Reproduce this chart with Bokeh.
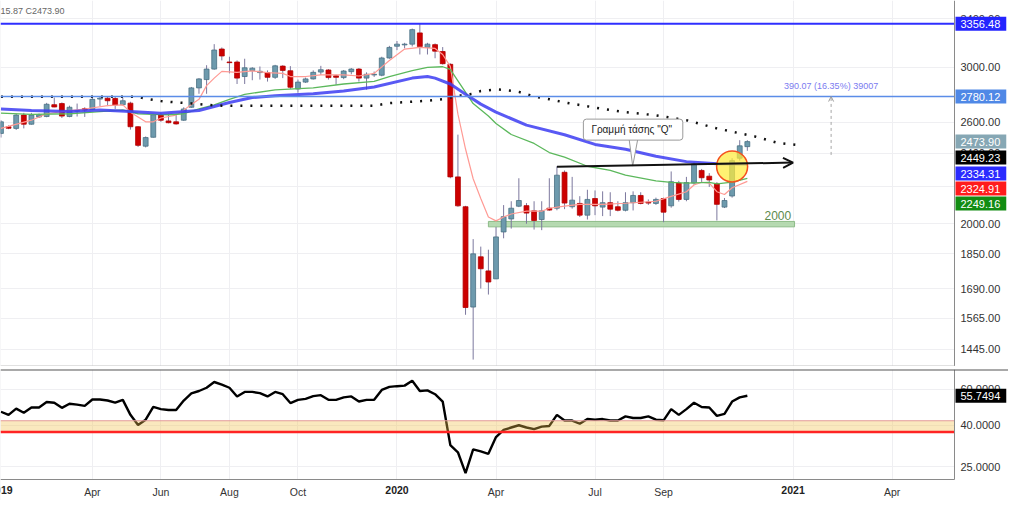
import math
from bokeh.plotting import figure
from bokeh.models import (ColumnDataSource, Range1d, FixedTicker, Label, Span, Arrow,
                          OpenHead, BoxAnnotation)
from bokeh.layouts import column
from bokeh.embed import file_html
from bokeh.resources import INLINE

# ---------------- data (weekly candles, Jan 2019 .. Nov 2020) ----------------
opens = [2527, 2571, 2560, 2650, 2588, 2637, 2640, 2722, 2730, 2640,
         2677, 2694, 2688, 2762, 2768, 2766, 2722, 2733, 2571, 2445,
         2502, 2652, 2610, 2604, 2615, 2704, 2843, 2905, 2985, 3144,
         3040, 3040, 2928, 2973, 2958, 2958, 2922, 3008, 2972, 2835,
         2886, 2910, 2962, 2978, 2933, 2920, 2965, 2985, 2916, 2940,
         2938, 3072, 3167, 3178, 3184, 3278, 3157, 3180, 3124, 3022,
         2258, 2090, 1612, 1836, 1770, 1734, 1958, 2025, 2093, 2096,
         2068, 2022, 2082, 2082, 2285, 2090, 2108, 2045, 2135, 2088,
         2112, 2090, 2071, 2112, 2152, 2115, 2108, 2135, 2095, 2222,
         2130, 2222, 2296, 2262, 2220, 2088, 2149, 2370, 2442]
highs = [2615, 2580, 2660, 2665, 2665, 2660, 2735, 2773, 2738, 2715,
         2730, 2704, 2785, 2780, 2780, 2778, 2770, 2743, 2575, 2507,
         2660, 2665, 2660, 2660, 2704, 2850, 2916, 3015, 3184, 3157,
         3082, 3053, 3066, 3000, 3005, 2975, 3018, 3015, 3008, 2905,
         2920, 2975, 3010, 2985, 2942, 2978, 2993, 2993, 2960, 2966,
         3082, 3170, 3210, 3195, 3315, 3356.48, 3195, 3190, 3160, 3030,
         2519, 2095, 1922, 1885, 1870, 1983, 2099, 2120, 2250, 2110,
         2120, 2120, 2250, 2320, 2296, 2258, 2148, 2184, 2180, 2175,
         2170, 2120, 2170, 2175, 2170, 2130, 2140, 2140, 2290, 2235,
         2258, 2345, 2305, 2280, 2227, 2138, 2370, 2483, 2483]
lows = [2500, 2555, 2550, 2560, 2585, 2630, 2635, 2704, 2630, 2635,
        2640, 2637, 2685, 2712, 2712, 2692, 2716, 2552, 2440, 2437,
        2500, 2604, 2594, 2585, 2610, 2700, 2800, 2800, 2980, 3053,
        2952, 2872, 2872, 2900, 2905, 2890, 2910, 2916, 2835, 2808,
        2880, 2905, 2940, 2905, 2866, 2908, 2945, 2890, 2830, 2925,
        2930, 3066, 3135, 3150, 3165, 3100, 3100, 3070, 3020, 2250,
        2090, 1580, 1407, 1691, 1665, 1733, 1926, 1975, 2088, 2000,
        1970, 1967, 2068, 2071, 2077, 2080, 2035, 2022, 2045, 2040,
        2040, 2065, 2065, 2070, 2103, 2100, 2100, 2008, 2085, 2118,
        2120, 2212, 2225, 2200, 2017, 2083, 2140, 2355, 2415.87]
closes = [2604, 2561, 2650, 2588, 2650, 2652, 2725, 2706, 2643, 2704,
          2680, 2685, 2760, 2768, 2750, 2720, 2750, 2571, 2450, 2500,
          2652, 2615, 2598, 2590, 2692, 2843, 2910, 2985, 3136, 3088,
          3035, 2916, 2995, 2992, 2968, 2922, 3010, 2975, 2848, 2886,
          2910, 2960, 2980, 2920, 2922, 2970, 2985, 2916, 2945, 2945,
          3072, 3157, 3184, 3184, 3306, 3164, 3184, 3127, 3027, 2258,
          2095, 1610, 1850, 1780, 1720, 1933, 2037, 2082, 2124, 2056,
          2017, 2068, 2072, 2268, 2110, 2126, 2045, 2130, 2095, 2112,
          2077, 2071, 2112, 2152, 2108, 2110, 2130, 2061, 2230, 2130,
          2225, 2335, 2253, 2240, 2103, 2124, 2355, 2447, 2473.90]
rsi = [46.5, 44.9, 48.2, 46.0, 48.8, 48.8, 51.9, 51.5, 48.6, 50.9,
       50.4, 49.7, 53.4, 53.4, 52.8, 51.5, 53.2, 44.9, 40.0, 42.5,
       49.1, 47.9, 47.4, 47.4, 52.8, 57.2, 58.8, 61.0, 65.1, 63.2,
       61.0, 55.3, 58.2, 58.2, 57.4, 55.3, 58.2, 56.7, 51.3, 53.2,
       53.8, 55.5, 56.1, 53.2, 53.2, 54.7, 55.3, 52.2, 53.2, 53.2,
       59.5, 61.6, 62.1, 62.5, 66.0, 58.8, 59.2, 56.7, 52.2, 31.9,
       29.4, 23.2, 30.4, 29.7, 28.9, 34.9, 37.9, 38.9, 39.9, 38.9,
       38.2, 39.3, 39.6, 44.9, 42.1, 42.1, 40.6, 42.8, 42.5, 42.8,
       42.1, 42.1, 44.1, 43.3, 43.3, 44.1, 42.5, 42.2, 47.9, 44.9,
       47.9, 51.5, 49.1, 48.8, 44.4, 45.4, 52.2, 54.7, 55.7494]

# moving averages read at selected weeks (week number, value)
ma_slow_idx = [1, 5, 10, 14, 18, 22, 27, 31, 34, 37, 42, 46, 50, 55, 57, 58, 60, 62, 64, 66,
               70, 75, 79, 83, 87, 91, 95, 99]
ma_slow_val = [2692, 2681, 2674, 2685, 2674, 2663, 2681, 2738, 2773, 2785, 2801, 2820, 2850, 2916,
               2928, 2916, 2872, 2796, 2726, 2670, 2582, 2518, 2456, 2426, 2382, 2349, 2336, 2334.31]
ma_mid_idx = [1, 5, 10, 14, 17, 19, 21, 23, 25, 27, 29, 31, 33, 37, 42, 46, 50, 52, 55, 57,
              59, 60, 61, 63, 65, 66, 68, 71, 73, 75, 78, 81, 83, 87, 89, 91, 94, 95, 97, 99]
ma_mid_val = [2663, 2655, 2659, 2674, 2685, 2659, 2655, 2652, 2659, 2692, 2721, 2760, 2796, 2828,
              2843, 2872, 2891, 2928, 2973, 2998, 3003, 2982, 2895, 2730, 2644, 2593, 2520, 2462,
              2405, 2376, 2321, 2296, 2268, 2235, 2226, 2222, 2226, 2217, 2228, 2249.16]
ma_fast_idx = [1, 5, 7, 10, 12, 15, 17, 18, 20, 21, 22, 24, 25, 26, 27, 28, 29, 30, 32, 34,
               36, 38, 39, 41, 43, 46, 48, 50, 52, 54, 56, 58, 59, 60, 61, 62, 63, 64, 65, 66,
               67, 68, 70, 72, 73, 75, 77, 80, 83, 87, 89, 91, 92, 93, 94, 95, 96, 97, 99]
ma_fast_val = [2560, 2615, 2659, 2681, 2692, 2715, 2721, 2670, 2604, 2604, 2630, 2650, 2684, 2724,
               2760, 2860, 2916, 2967, 2960, 2971, 2958, 2952, 2928, 2928, 2940, 2940, 2932, 2952,
               3052, 3144, 3157, 3149, 3100, 3006, 2656, 2427, 2247, 2135, 2035, 2015, 2035, 2051,
               2066, 2066, 2082, 2093, 2103, 2103, 2109, 2120, 2147, 2173, 2211, 2227, 2222, 2173,
               2157, 2195, 2232]
dot_idx = [1, 19, 20, 22, 24, 26, 28, 30, 50, 52, 55, 57, 59, 61, 63, 64, 66, 67, 69, 71,
           73, 75, 77, 80, 83, 87, 91, 95, 100, 103, 106]
dot_val = [2778, 2778, 2765, 2748, 2738, 2731, 2721, 2715, 2715, 2733, 2743, 2750, 2761, 2785,
           2801, 2820, 2832, 2828, 2814, 2780, 2761, 2738, 2720, 2692, 2670, 2648, 2615, 2560,
           2507, 2466, 2450]

# horizontal levels, drawings and right-axis price tags
ath_level = 3356.48
res_level = 2780.12
support_level = 2000
support_band = (1984, 2012)
trend_q = [(74, 2318), (105, 2343)]
measure = (2390.05, 2780.12)
measure_text = "390.07 (16.35%) 39007"
tags = [("2473.90", "#86a7b4"), ("2449.23", "#000000"), ("2334.31", "#2b2bff"),
        ("2324.91", "#ff1c1c"), ("2249.16", "#128c12")]
tag_anchor = 2473.90
rsi_band = (37, 42)
rsi_last = "55.7494"

tick_idx = [1, 13, 22, 31, 40, 53, 66, 79, 88, 105, 118]
tick_labels = ["2019", "Apr", "Jun", "Aug", "Oct", "2020", "Apr", "Jul", "Sep", "2021", "Apr"]
price_ticks = [1445, 1565, 1690, 1850, 2000, 2200, 2400, 2600, 3000, 3400]
rsi_ticks = [25, 40, 60]

# ---------------- layout constants ----------------
FONT = "Liberation Sans"
TOTAL_W = 1008
AREA_W = 954                      # chart area; the rest is the price-scale strip
X0, X1 = 0.94, 126.2              # visible weeks in the chart area
X_END = X0 + (X1 - X0) * TOTAL_W / AREA_W
MAIN_H = 366
Y0, Y1 = 1382, 3565
OSC_H, STRIP_H = 110, 21
R0, R1 = 21.6, 75
R_BOTTOM = R0 / math.exp(math.log(R1 / R0) * STRIP_H / OSC_H)
GRID = "#efeff2"
AXIS = "#8a8a8a"

weeks = list(range(1, len(closes) + 1))


def base_fig(height, yr, top_border):
    f = figure(x_range=Range1d(X0, X_END), y_range=yr, y_axis_type="log",
               x_axis_location=None, y_axis_location=None,
               frame_width=TOTAL_W, frame_height=height,
               min_border_left=0, min_border_right=0, min_border_top=top_border,
               min_border_bottom=0, output_backend="svg", toolbar_location=None)
    f.outline_line_color = None
    f.xgrid.ticker = FixedTicker(ticks=tick_idx)
    f.grid.grid_line_color = GRID
    return f


def scale_labels(f, ticks, fmt):
    for t in ticks:
        f.add_layout(Label(x=X1, y=t, x_offset=6, text=fmt % t, text_align="left",
                           text_baseline="middle", text_font=FONT, text_font_size="11px",
                           text_color="#333333"))


def tag(f, y, text, color, y_off=0):
    f.add_layout(Label(x=X1, y=y, x_offset=1, y_offset=y_off, text=text, text_align="left",
                       text_baseline="middle", text_font=FONT, text_font_size="11px",
                       text_color="white", background_fill_color=color,
                       padding=dict(left=5, right=6, top=3, bottom=3)))


# ---------------- main price panel ----------------
p1 = base_fig(MAIN_H, Range1d(Y0, Y1), 0)
p1.ygrid.ticker = FixedTicker(ticks=price_ticks)

p1.quad(left=[65], right=[105.2], bottom=[support_band[0]], top=[support_band[1]],
        fill_color="#a9d4a3", fill_alpha=0.85, line_color="#8dbb88", line_width=1)

up = [k for k in range(len(closes)) if closes[k] >= opens[k]]
dn = [k for k in range(len(closes)) if closes[k] < opens[k]]


def src(ids):
    return ColumnDataSource(dict(
        x=[weeks[k] for k in ids],
        top=[max(opens[k], closes[k]) for k in ids],
        bottom=[min(opens[k], closes[k]) for k in ids],
        high=[highs[k] for k in ids],
        low=[lows[k] for k in ids]))


s_up, s_dn = src(up), src(dn)
p1.segment(x0="x", y0="high", x1="x", y1="low", source=s_up, line_color="#7c789e", line_width=1)
p1.segment(x0="x", y0="high", x1="x", y1="low", source=s_dn, line_color="#7c789e", line_width=1)
p1.vbar(x="x", width=0.64, top="top", bottom="bottom", source=s_up,
        fill_color="#6d9aad", line_color="#4a7083", line_width=0.8)
p1.vbar(x="x", width=0.64, top="top", bottom="bottom", source=s_dn,
        fill_color="#cc0000", line_color="#b30000", line_width=0.8)

p1.line(ma_fast_idx, ma_fast_val, line_color="#ff9a94", line_width=1.2)
p1.line(ma_mid_idx, ma_mid_val, line_color="#5cb85c", line_width=1.3)
p1.line(ma_slow_idx, ma_slow_val, line_color="#3c3cf2", line_width=3, line_alpha=0.85)
p1.line(dot_idx, dot_val, line_color="#111111", line_width=2.5, line_dash="2 8")

p1.add_layout(Span(location=ath_level, dimension="width", line_color="#2f2fff", line_width=2))
p1.add_layout(Span(location=res_level, dimension="width", line_color="#5b8de8", line_width=1.5))

p1.scatter([97], [2320], marker="circle", size=31, fill_color="#ffeb3b", fill_alpha=0.72,
           line_color="#f4511e", line_width=1.5)

p1.add_layout(Arrow(end=OpenHead(size=10, line_width=2, line_color="#111111"),
                    x_start=trend_q[0][0], y_start=trend_q[0][1],
                    x_end=trend_q[1][0], y_end=trend_q[1][1],
                    line_color="#111111", line_width=2))
p1.patch([83.45, 83.95, 84.65], [2500, 2322, 2500], fill_color="white",
         line_color="#9a9a9a", line_width=1)
p1.add_layout(Label(x=84, y=2552, text='Γραμμή τάσης  "Q"', text_align="center",
                    text_baseline="middle", text_font=FONT, text_font_size="10px",
                    text_color="#222222", background_fill_color="white",
                    border_line_color="#9a9a9a", border_line_width=1,
                    padding=dict(left=8, right=8, top=5, bottom=5), border_radius=3))

p1.add_layout(Label(x=103, y=support_band[1], y_offset=1, text=str(support_level),
                    text_align="center", text_baseline="bottom", text_font=FONT,
                    text_font_size="12px", text_color="#5c8a4c"))

p1.add_layout(Arrow(end=OpenHead(size=5, line_width=1, line_color="#9a9a9a"),
                    x_start=110, y_start=measure[0], x_end=110, y_end=measure[1],
                    line_color="#a6a6a6", line_width=1, line_dash="3 3"))
p1.add_layout(Label(x=110, y=measure[1], y_offset=6, text=measure_text, text_align="center",
                    text_baseline="bottom", text_font=FONT, text_font_size="9px",
                    text_color="#7b7bf0"))

p1.add_layout(Label(x=X0, y=Y1, y_offset=-5, text="15.87  C2473.90", text_align="left",
                    text_baseline="top", text_font=FONT, text_font_size="9px",
                    text_color="#666666"))

# price scale strip
p1.add_layout(BoxAnnotation(left=X1, fill_color="white", fill_alpha=1.0, line_color=None))
p1.add_layout(Span(location=X1, dimension="height", line_color=AXIS, line_width=1))
p1.add_layout(Arrow(end=None, x_start=X0, y_start=Y0, x_end=X1, y_end=Y0,
                    line_color="#c4c4c4", line_width=2))
scale_labels(p1, price_ticks, "%.2f")
tag(p1, ath_level, "%.2f" % ath_level, "#2424ff")
tag(p1, res_level, "%.2f" % res_level, "#4f88e6")
for (txt, col), off in zip(tags, [0, -16, -32, -47, -62]):
    tag(p1, tag_anchor, txt, col, off)

# ---------------- lower oscillator panel ----------------
p2 = base_fig(OSC_H + STRIP_H, Range1d(R_BOTTOM, R1), 3)
p2.ygrid.ticker = FixedTicker(ticks=rsi_ticks)

p2.line(weeks, rsi, line_color="#000000", line_width=2.4)
p2.add_layout(BoxAnnotation(bottom=rsi_band[0], top=rsi_band[1], right=X1, fill_color="#f2c04c",
                            fill_alpha=0.36, line_color=None))
p2.add_layout(Arrow(end=None, x_start=X0, y_start=rsi_band[1], x_end=X1, y_end=rsi_band[1],
                    line_color="#e39a9a", line_width=1.2))
p2.add_layout(Arrow(end=None, x_start=X0, y_start=rsi_band[0], x_end=X1, y_end=rsi_band[0],
                    line_color="#ff2424", line_width=2.5))

p2.add_layout(BoxAnnotation(left=X1, fill_color="white", fill_alpha=1.0, line_color=None))
p2.add_layout(BoxAnnotation(top=R0, fill_color="white", fill_alpha=1.0, line_color=None))
p2.add_layout(Arrow(end=None, x_start=X1, y_start=R0, x_end=X1, y_end=R1,
                    line_color=AXIS, line_width=1))
p2.add_layout(Arrow(end=None, x_start=X0, y_start=R0, x_end=X1, y_end=R0,
                    line_color=AXIS, line_width=1.2))
p2.add_layout(Span(location=R1, dimension="width", line_color="#555555", line_width=2))
scale_labels(p2, rsi_ticks, "%.4f")
tag(p2, rsi[-1], rsi_last, "#000000")

for t, lab in zip(tick_idx, tick_labels):
    p2.add_layout(Label(x=t, y=R0, y_offset=-6, text=lab, text_align="center",
                        text_baseline="top", text_font=FONT, text_font_size="10.5px",
                        text_font_style="bold" if lab.isdigit() else "normal",
                        text_color="#222222" if lab.isdigit() else "#333333"))

layout = column(p1, p2)
open("out.html", "w").write(file_html(layout, INLINE))
